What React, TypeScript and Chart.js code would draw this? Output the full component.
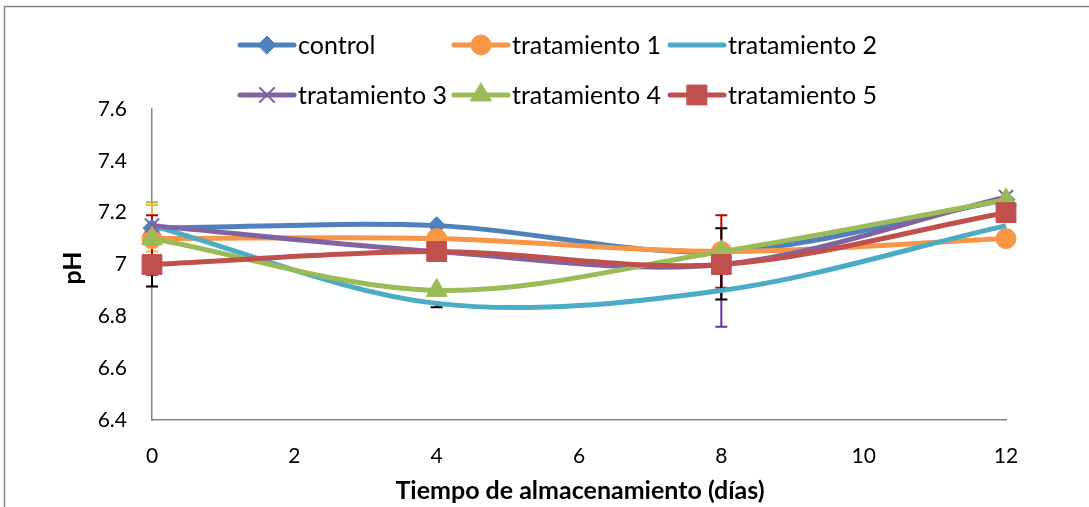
import React, { useEffect, useRef } from "react";
import { Chart, registerables } from "chart.js";
import { drawPoint } from "chart.js/helpers";

Chart.register(...registerables);

// Storage days and measured pH per treatment
const days = [0, 4, 8, 12];
const control = [7.14, 7.15, 7.05, 7.25];
const tratamiento1 = [7.1, 7.1, 7.05, 7.1];
const tratamiento2 = [7.15, 6.85, 6.9, 7.15];
const tratamiento3 = [7.15, 7.05, 7.0, 7.26];
const tratamiento4 = [7.1, 6.9, 7.05, 7.25];
const tratamiento5 = [7.0, 7.05, 7.0, 7.2];

const seriesNames = ["control", "tratamiento 1", "tratamiento 2", "tratamiento 3", "tratamiento 4", "tratamiento 5"];
const seriesValues = [control, tratamiento1, tratamiento2, tratamiento3, tratamiento4, tratamiento5];
const seriesColors = ["#4F81BD", "#F79646", "#4BACC6", "#8064A2", "#9BBB59", "#C0504D"];
const seriesMarkers: (string | false)[] = ["rectRot", "circle", false, "crossRot", "triangle", "rect"];
const markerRadius = [9, 10, 0, 10, 12, 14];

// Error bars: day, lower and upper pH, colour
const errDay = [0, 0, 0, 0, 4, 8, 8, 8];
const errLow = [7.0, 6.915, 7.05, 6.96, 6.835, 6.76, 6.91, 6.865];
const errHigh = [7.24, 7.0, 7.23, 7.19, 6.85, 7.0, 7.19, 7.14];
const errColor = ["#9BBB59", "#000000", "#F5B942", "#C00000", "#000000", "#7030A0", "#C00000", "#000000"];

const yTicks = [6.4, 6.6, 6.8, 7.0, 7.2, 7.4, 7.6];
const xTicks = [0, 2, 4, 6, 8, 10, 12];

const FONT = "Lato";
const TICK_FS = 21;
const LABEL_FS = 25;
const AXIS_GREY = "#868686";

const CHART_LEFT = 152;
const CHART_TOP = 109;
const CHART_RIGHT = 1006;
const CHART_BOTTOM = 420;
const W = 1089;
const H = 507;

const legendCols = [240, 454, 670];
const legendRows = [45, 95];

const decorPlugin = {
  id: "decor",
  beforeDatasetsDraw(chart: any) {
    const ctx = chart.ctx;
    const xs = chart.scales.x;
    const ys = chart.scales.y;
    ctx.save();
    ctx.lineWidth = 2;
    for (let i = 0; i < errDay.length; i++) {
      const px = xs.getPixelForValue(errDay[i]);
      const lo = ys.getPixelForValue(errLow[i]);
      const hi = ys.getPixelForValue(errHigh[i]);
      ctx.strokeStyle = errColor[i];
      ctx.beginPath();
      ctx.moveTo(px, lo);
      ctx.lineTo(px, hi);
      ctx.moveTo(px - 6, lo);
      ctx.lineTo(px + 6, lo);
      ctx.moveTo(px - 6, hi);
      ctx.lineTo(px + 6, hi);
      ctx.stroke();
    }
    ctx.restore();
  },
  afterDraw(chart: any) {
    const ctx = chart.ctx;
    ctx.save();
    // outer frame
    ctx.strokeStyle = AXIS_GREY;
    ctx.lineWidth = 1.5;
    ctx.beginPath();
    ctx.moveTo(4.5, H);
    ctx.lineTo(4.5, 6.5);
    ctx.lineTo(W, 6.5);
    ctx.stroke();

    // legend
    ctx.font = `${LABEL_FS}px ${FONT}`;
    ctx.textBaseline = "middle";
    ctx.textAlign = "left";
    for (let i = 0; i < seriesNames.length; i++) {
      const x0 = legendCols[i % 3];
      const y0 = legendRows[Math.floor(i / 3)];
      ctx.strokeStyle = seriesColors[i];
      ctx.lineWidth = 5;
      ctx.lineCap = "round";
      ctx.beginPath();
      ctx.moveTo(x0, y0);
      ctx.lineTo(x0 + 54, y0);
      ctx.stroke();
      const marker = seriesMarkers[i];
      if (marker) {
        ctx.fillStyle = seriesColors[i];
        ctx.strokeStyle = seriesColors[i];
        ctx.lineWidth = marker === "crossRot" ? 2 : 1;
        drawPoint(ctx, { pointStyle: marker, radius: markerRadius[i], rotation: 0, borderWidth: ctx.lineWidth }, x0 + 27, y0);
      }
      ctx.fillStyle = "#000000";
      ctx.fillText(seriesNames[i], x0 + 58, y0 + 1);
    }

    // axis titles
    ctx.font = `bold ${LABEL_FS}px ${FONT}`;
    ctx.textAlign = "center";
    ctx.fillText("Tiempo de almacenamiento (días)", 580, 491);
    ctx.translate(73, 268);
    ctx.rotate(-Math.PI / 2);
    ctx.fillText("pH", 0, 0);
    ctx.restore();
  },
};

export default function App() {
  const ref = useRef<HTMLCanvasElement | null>(null);

  useEffect(() => {
    if (!ref.current) return;
    const datasets = seriesNames.map((name, i) => ({
      label: name,
      data: days.map((d, k) => ({ x: d, y: seriesValues[i][k] })),
      borderColor: seriesColors[i],
      backgroundColor: seriesColors[i],
      borderWidth: 5,
      tension: 0.33,
      pointStyle: seriesMarkers[i] as any,
      pointRadius: markerRadius[i],
      pointBorderWidth: seriesMarkers[i] === "crossRot" ? 2 : 1,
      pointBorderColor: seriesColors[i],
      pointBackgroundColor: seriesColors[i],
      order: seriesNames.length - i,
      clip: false as any,
    }));

    const chart = new Chart(ref.current, {
      type: "line",
      data: { datasets },
      plugins: [decorPlugin],
      options: {
        animation: false,
        responsive: false,
        devicePixelRatio: 1,
        layout: {
          padding: { left: 0, top: CHART_TOP, right: W - CHART_RIGHT, bottom: 0 },
        },
        plugins: {
          legend: { display: false },
          tooltip: { enabled: false },
          title: { display: false },
        },
        scales: {
          x: {
            type: "linear",
            min: 0,
            max: 12,
            afterBuildTicks: (s: any) => {
              s.ticks = xTicks.map((v) => ({ value: v }));
            },
            afterFit: (s: any) => {
              s.height = H - CHART_BOTTOM;
            },
            grid: { display: false, drawTicks: false },
            border: { display: true, color: AXIS_GREY, width: 1.5 },
            ticks: {
              color: "#000000",
              padding: 24,
              font: { family: FONT, size: TICK_FS },
              maxRotation: 0,
            },
          },
          y: {
            type: "linear",
            min: 6.4,
            max: 7.6,
            afterBuildTicks: (s: any) => {
              s.ticks = yTicks.map((v) => ({ value: v }));
            },
            afterFit: (s: any) => {
              s.width = CHART_LEFT;
            },
            grid: { display: false, drawTicks: false },
            border: { display: true, color: AXIS_GREY, width: 1.5 },
            ticks: {
              color: "#000000",
              padding: 25,
              font: { family: FONT, size: TICK_FS },
              callback: (v: any) => String(Math.round(Number(v) * 10) / 10),
            },
          },
        },
      },
    });
    return () => chart.destroy();
  }, []);

  return (
    <canvas
      ref={ref}
      width={W}
      height={H}
      style={{ position: "fixed", left: 0, top: 0, width: W, height: H, background: "#ffffff" }}
    />
  );
}
